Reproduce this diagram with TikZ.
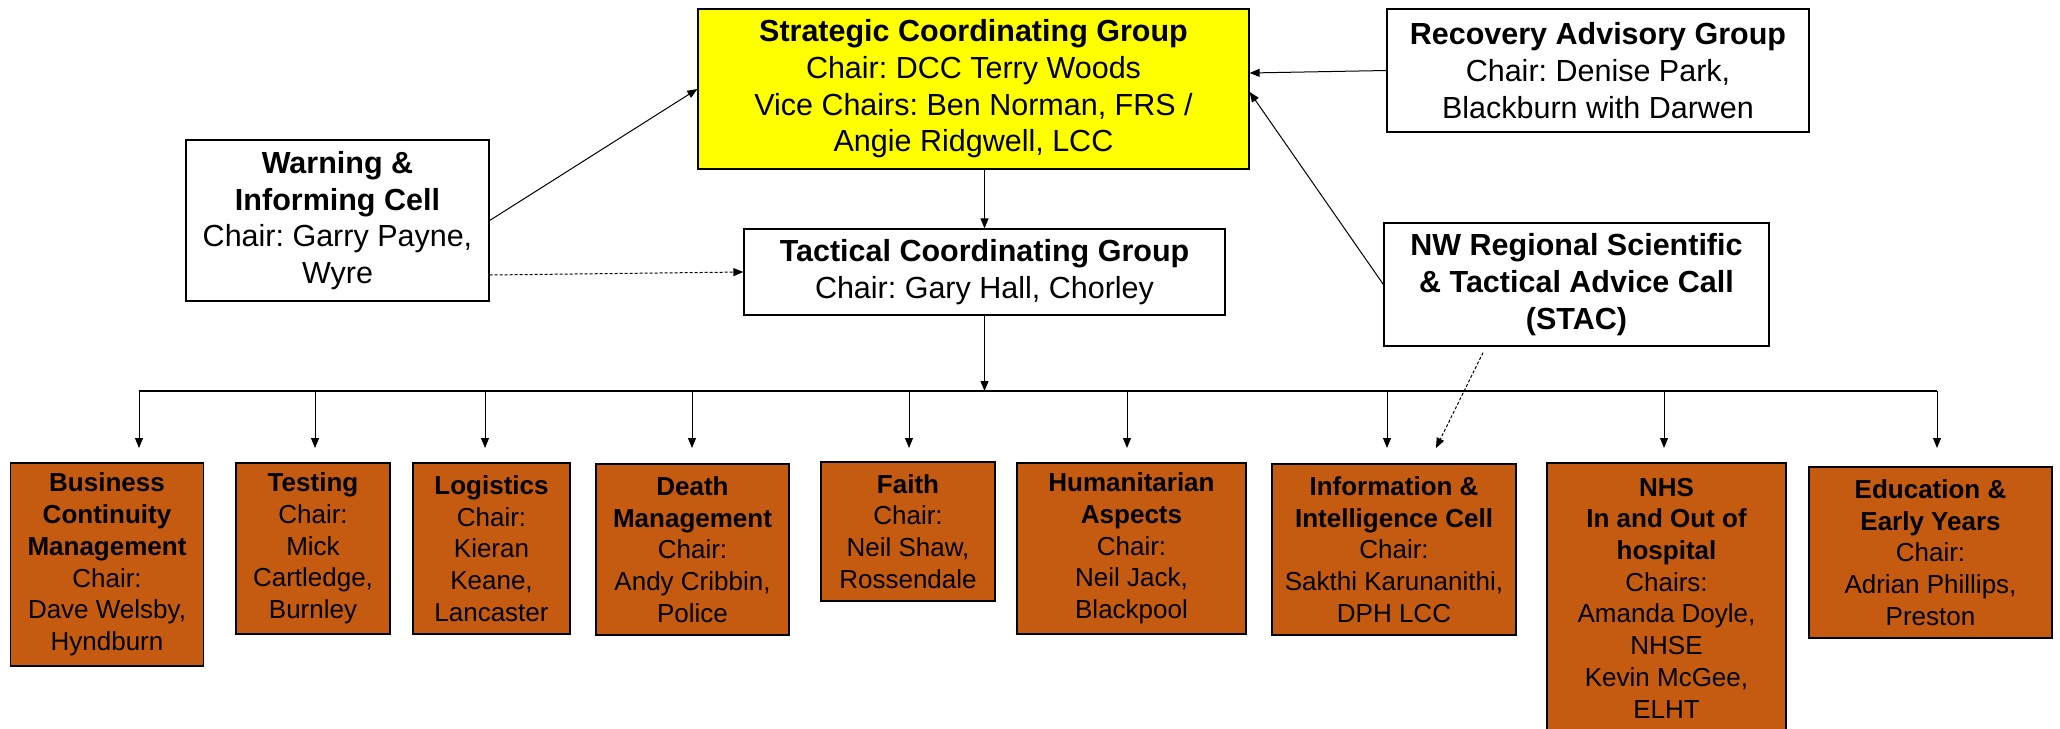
\documentclass[tikz,border=0pt]{standalone}
\usepackage{fontspec}
\setmainfont{Liberation Sans}
\frenchspacing
\usetikzlibrary{arrows.meta}
\definecolor{orgbox}{HTML}{C55A11}
\definecolor{ylwbox}{HTML}{FFFF00}
\tikzset{
  topbox/.style={draw=black, line width=1.3pt, fill=white, inner sep=0pt, align=center,
     font=\frenchspacing\fontsize{30.5}{36.7}\selectfont},
  lowbox/.style={draw=black, line width=1.3pt, fill=orgbox, inner sep=0pt, align=center,
     font=\frenchspacing\fontsize{26}{31.7}\selectfont},
  arr/.style={line width=1pt, -{Triangle[length=10pt,width=8pt]}},
  plain/.style={line width=1.2pt},
  dotline/.style={line width=1pt, dash pattern=on 3pt off 2pt, -{Triangle[length=10pt,width=8pt]}},
}
\begin{document}
\begin{tikzpicture}[x=1pt,y=-1pt]
\useasboundingbox (0,0) rectangle (2060,728);
\clip (0,0) rectangle (2060,728);

% top-level boxes
\node[topbox, fill=ylwbox, minimum width=551pt, minimum height=160pt] (scg) at (973.5,89)
  {\textbf{Strategic Coordinating Group}\\Chair: DCC Terry Woods\\Vice Chairs: Ben Norman, FRS /\\Angie Ridgwell, LCC};
\node[topbox, minimum width=422pt, minimum height=123pt] (rag) at (1598,70.5)
  {\textbf{Recovery Advisory Group}\\Chair: Denise Park,\\Blackburn with Darwen};
\node[topbox, minimum width=303pt, minimum height=161pt] (warn) at (337.5,220.5)
  {\textbf{Warning \&}\\\textbf{Informing Cell}\\Chair: Garry Payne,\\Wyre};
\node[topbox, minimum width=481pt, minimum height=86pt] (tcg) at (984.5,272)
  {\textbf{Tactical Coordinating Group}\\Chair: Gary Hall, Chorley};
\node[topbox, minimum width=385pt, minimum height=123pt] (stac) at (1576.5,284.5)
  {\textbf{NW Regional Scientific}\\\textbf{\& Tactical Advice Call}\\\textbf{(STAC)}};

% cells
\node[lowbox, minimum width=193pt, minimum height=203pt] (bcm) at (107,564.5)
  {\textbf{Business}\\\textbf{Continuity}\\\textbf{Management}\\Chair:\\Dave Welsby,\\Hyndburn};
\node[lowbox, minimum width=154pt, minimum height=171pt] (test) at (313,548.5)
  {\textbf{Testing}\\Chair:\\Mick\\Cartledge,\\Burnley};
\node[lowbox, minimum width=157pt, minimum height=171pt] (logi) at (491.5,548.5)
  {\textbf{Logistics}\\Chair:\\Kieran\\Keane,\\Lancaster};
\node[lowbox, minimum width=193pt, minimum height=171pt] (death) at (692.5,549.5)
  {\textbf{Death}\\\textbf{Management}\\Chair:\\Andy Cribbin,\\Police};
\node[lowbox, minimum width=174pt, minimum height=139pt] (faith) at (908,531.5)
  {\textbf{Faith}\\Chair:\\Neil Shaw,\\Rossendale};
\node[lowbox, minimum width=229pt, minimum height=171pt] (human) at (1131.5,548.5)
  {\textbf{Humanitarian}\\\textbf{Aspects}\\Chair:\\Neil Jack,\\Blackpool};
\node[lowbox, minimum width=244pt, minimum height=171pt] (info) at (1394,549.5)
  {\textbf{Information \&}\\\textbf{Intelligence Cell}\\Chair:\\Sakthi Karunanithi,\\DPH LCC};
\node[lowbox, minimum width=239pt, minimum height=270pt] (nhs) at (1666.5,598)
  {\textbf{NHS}\\\textbf{In and Out of}\\\textbf{hospital}\\Chairs:\\Amanda Doyle,\\NHSE\\Kevin McGee,\\ELHT};
\node[lowbox, minimum width=243pt, minimum height=171pt] (edu) at (1930.5,552.5)
  {\textbf{Education \&}\\\textbf{Early Years}\\Chair:\\Adrian Phillips,\\Preston};

% bus and tips
\coordinate (busL) at (139,391);
\coordinate (busR) at (1937,391);
\coordinate (tbcm) at (139,448);
\coordinate (ttest) at (315,448);
\coordinate (tlogi) at (485,448);
\coordinate (tdeath) at (692,448);
\coordinate (tfaith) at (909,448);
\coordinate (thuman) at (1127,448);
\coordinate (tinfo) at (1387,448);
\coordinate (tnhs) at (1664,448);
\coordinate (tedu) at (1937,448);
\coordinate (tstac) at (1436,448);

% connectors
\draw[arr] (tcg.north |- scg.south) -- (tcg.north);
\draw[arr] (warn.east) -- (scg.west);
\draw[dotline] ([yshift=-3pt]warn.east |- tcg.west) -- (tcg.west);
\draw[arr] (rag.west) -- ([yshift=16pt]scg.east);
\draw[arr] (stac.west) -- ([yshift=-3pt]scg.east);
\draw[arr] (tcg.south -| tcg.north) -- (tcg.north |- busL);
\draw[plain] (busL) -- (busR);
\foreach \t in {tbcm,ttest,tlogi,tdeath,tfaith,thuman,tinfo,tnhs,tedu}
  \draw[arr] (\t |- busL) -- (\t);
\draw[dotline] ([shift={(-93.5pt,-6pt)}]stac.south) -- (tstac);
\end{tikzpicture}
\end{document}
